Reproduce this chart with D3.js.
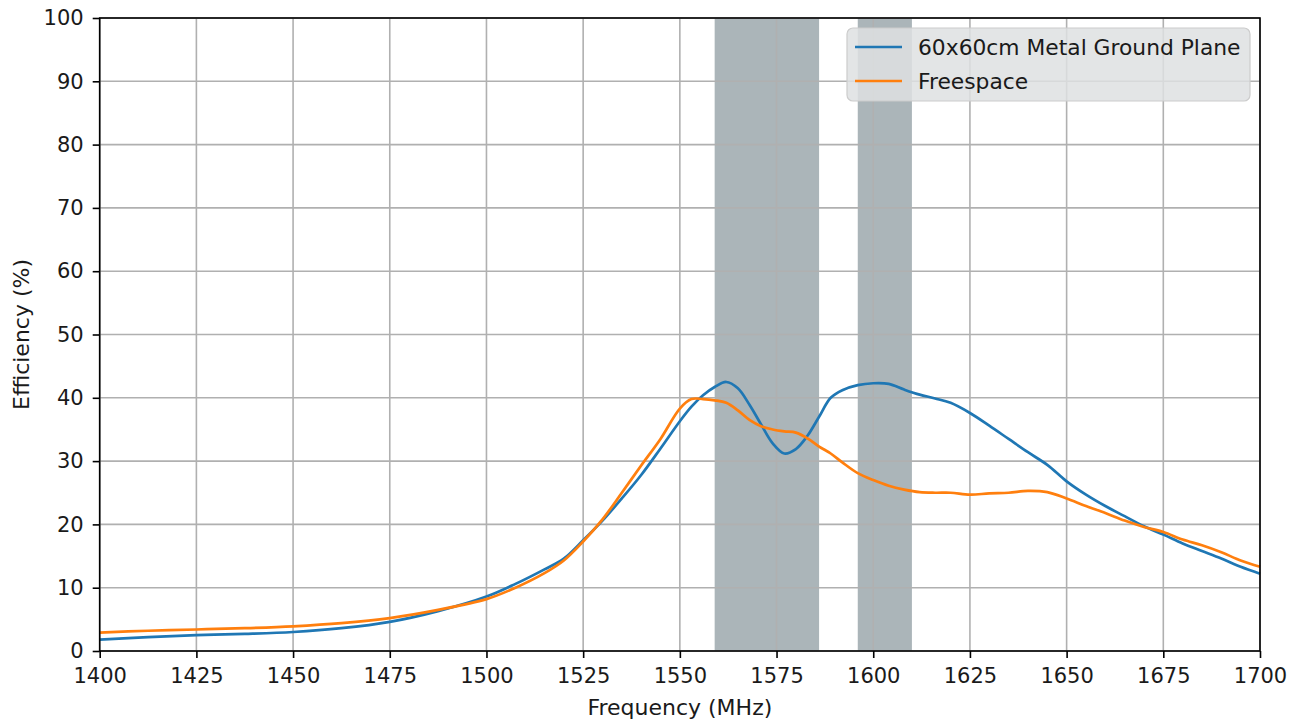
<!DOCTYPE html>
<html><head><meta charset="utf-8">
<script src="https://cdn.jsdelivr.net/npm/d3@7"></script>
<style>body{margin:0;background:#fff;} svg{display:block;font-family:"DejaVu Sans",sans-serif;}</style>
</head><body>
<svg id="chart" width="1302" height="722"></svg>
<script>
const freqs = [1400,1412.5,1425,1437.5,1450,1462.5,1475,1487.5,1500,1507.5,1515,1520,1525,1530,1535,1540,1545,1550,1553,1556,1559,1562,1565,1568,1571,1574,1577,1580,1583,1586,1589,1592,1596,1600,1604,1608,1612,1616,1620,1625,1630,1635,1640,1645,1650,1655,1660,1665,1670,1675,1680,1685,1690,1695,1700];
const metalPlane = [1.8,2.2,2.5,2.7,3.0,3.6,4.6,6.3,8.6,10.6,12.9,14.6,17.5,20.6,24.1,27.8,32.0,36.3,38.6,40.4,41.7,42.5,41.5,38.9,35.8,32.8,31.2,31.9,34.0,37.0,40.0,41.2,42.0,42.3,42.2,41.3,40.5,39.9,39.2,37.6,35.6,33.5,31.4,29.4,26.8,24.7,22.9,21.3,19.7,18.4,17.0,15.8,14.6,13.3,12.2];
const freespace = [2.9,3.2,3.4,3.6,3.9,4.4,5.2,6.5,8.2,10.0,12.3,14.3,17.3,20.8,25.0,29.3,33.5,38.3,39.8,39.8,39.6,39.2,38.0,36.5,35.5,35.0,34.7,34.5,33.6,32.3,31.2,29.8,28.1,27.0,26.1,25.5,25.1,25.0,25.0,24.7,24.9,25.0,25.3,25.1,24.1,22.9,21.8,20.6,19.6,18.8,17.6,16.7,15.6,14.3,13.3];
const bands = [[1559,1586],[1596,1610]];
const xTicks = [1400,1425,1450,1475,1500,1525,1550,1575,1600,1625,1650,1675,1700];
const yTicks = [0,10,20,30,40,50,60,70,80,90,100];
const seriesNames = ["60x60cm Metal Ground Plane","Freespace"];
const seriesColors = ["#1f77b4","#ff7f0e"];

const svg = d3.select("#chart");
const L=99.7, R=1260, T=18, B=651;
const x = d3.scaleLinear().domain([1400,1700]).range([L,R]);
const y = d3.scaleLinear().domain([0,100]).range([B,T]);

// bands
svg.append("g").selectAll("rect").data(bands).join("rect")
  .attr("x",d=>x(d[0])).attr("width",d=>x(d[1])-x(d[0]))
  .attr("y",T).attr("height",B-T).attr("fill","rgb(171,181,185)");

// grid
const grid = svg.append("g").attr("stroke","#b0b0b0").attr("stroke-width",1.6);
grid.selectAll("line.gx").data(xTicks).join("line").attr("class","gx")
  .attr("x1",d=>x(d)).attr("x2",d=>x(d)).attr("y1",T).attr("y2",B);
grid.selectAll("line.gy").data(yTicks).join("line").attr("class","gy")
  .attr("y1",d=>y(d)).attr("y2",d=>y(d)).attr("x1",L).attr("x2",R);

// lines
const line = d3.line().x((d,i)=>x(freqs[i])).y(d=>y(d)).curve(d3.curveCatmullRom.alpha(0.5));
[metalPlane,freespace].forEach((s,i)=>{
  svg.append("path").datum(s).attr("d",line).attr("fill","none")
    .attr("stroke",seriesColors[i]).attr("stroke-width",2.7).attr("stroke-linejoin","round");
});

// axes
const xAxis = svg.append("g").attr("transform",`translate(0,${B})`)
  .call(d3.axisBottom(x).tickValues(xTicks).tickSize(7).tickPadding(10).tickFormat(d3.format("d")));
const yAxis = svg.append("g").attr("transform",`translate(${L},0)`)
  .call(d3.axisLeft(y).tickValues(yTicks).tickSize(7).tickPadding(9));
[xAxis,yAxis].forEach(a=>{
  a.selectAll("text").attr("font-size",21).attr("fill","#1a1a1a").attr("font-family","DejaVu Sans");
  a.selectAll("line").attr("stroke","#000").attr("stroke-width",1.6);
  a.select(".domain").remove();
});
// spines
svg.append("rect").attr("x",L).attr("y",T).attr("width",R-L).attr("height",B-T)
  .attr("fill","none").attr("stroke","#000").attr("stroke-width",1.6);

// axis labels
svg.append("text").attr("x",(L+R)/2).attr("y",715).attr("text-anchor","middle")
  .attr("font-size",22).attr("fill","#1a1a1a").text("Frequency (MHz)");
svg.append("text").attr("transform",`translate(29,${(T+B)/2}) rotate(-90)`).attr("text-anchor","middle")
  .attr("font-size",22).attr("fill","#1a1a1a").text("Efficiency (%)");

// legend
const lg = svg.append("g");
lg.append("rect").attr("x",847).attr("y",28).attr("width",403).attr("height",73).attr("rx",6)
  .attr("fill","rgb(222,224,226)").attr("fill-opacity",0.85).attr("stroke","#cccccc").attr("stroke-width",1.2);
seriesNames.forEach((n,i)=>{
  const yy = 47 + i*34;
  lg.append("line").attr("x1",855).attr("x2",902).attr("y1",yy).attr("y2",yy)
    .attr("stroke",seriesColors[i]).attr("stroke-width",2.7);
  lg.append("text").attr("x",918).attr("y",yy+8).attr("font-size",21.8).attr("fill","#1a1a1a").text(n);
});
</script>
</body></html>
